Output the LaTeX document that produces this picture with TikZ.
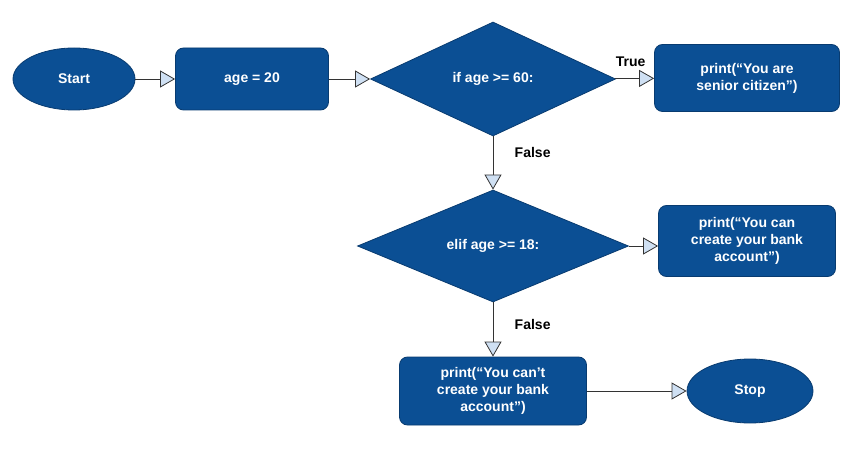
\documentclass[tikz,border=0pt]{standalone}
\usepackage{fontspec}
\setmainfont{Liberation Sans}
\usetikzlibrary{shapes.geometric,arrows.meta,positioning}
\definecolor{boxblue}{HTML}{0B4F94}
\definecolor{boxline}{HTML}{083B70}
\definecolor{tipblue}{HTML}{CFE0F3}
\tikzset{
  base/.style={draw=boxline, fill=boxblue, text=white, font=\fontsize{14}{17}\selectfont\bfseries, align=center, line width=0.8pt},
  term/.style={base, ellipse, minimum width=122pt, minimum height=62pt},
  proc/.style={base, rectangle, rounded corners=8pt, minimum height=64pt},
  decide/.style={base, diamond, inner sep=0pt},
  flow/.style={draw=black!80, line width=0.8pt, -{Triangle[length=15pt,width=17pt,fill=tipblue]}},
  lbl/.style={font=\fontsize{14}{17}\selectfont\bfseries}
}
\begin{document}
\begin{tikzpicture}[x=1pt,y=-1pt]
    \useasboundingbox (0,0) rectangle (853,454);
    \node[term] (start) at (74,79) {Start};
    \node[proc, minimum width=153pt, minimum height=62pt] (age) at (252,79) {age = 20};
    \node[decide, minimum width=245pt, minimum height=114pt] (if1) at (493,79) {if age >= 60:};
    \node[proc, minimum width=185pt, minimum height=67pt] (senior) at (747,78) {print(“You are\\senior citizen”)};
    \node[decide, minimum width=271pt, minimum height=112pt] (if2) at (493,246) {elif age >= 18:};
    \node[proc, minimum width=177pt, minimum height=71pt] (bank) at (747,241) {print(“You can\\create your bank\\account”)};
    \node[proc, minimum width=187pt, minimum height=68pt] (nobank) at (493,391) {print(“You can’t\\create your bank\\account”)};
    \node[term, minimum width=126pt, minimum height=64pt] (stop) at (750,391) {Stop};

    \draw[flow] (start) -- (age);
    \draw[flow] (age) -- (if1);
    \draw[flow] (if1) -- node[lbl, above=8pt, pos=0.4] {True} (senior);
    \draw[flow] (if1) -- node[lbl, right=18pt, pos=0.3] {False} (if2);
    \draw[flow] (if2.east) -- (bank.west |- if2.east);
    \draw[flow] (if2) -- node[lbl, right=18pt, pos=0.4] {False} (nobank);
    \draw[flow] (nobank) -- (stop);
\end{tikzpicture}
\end{document}
